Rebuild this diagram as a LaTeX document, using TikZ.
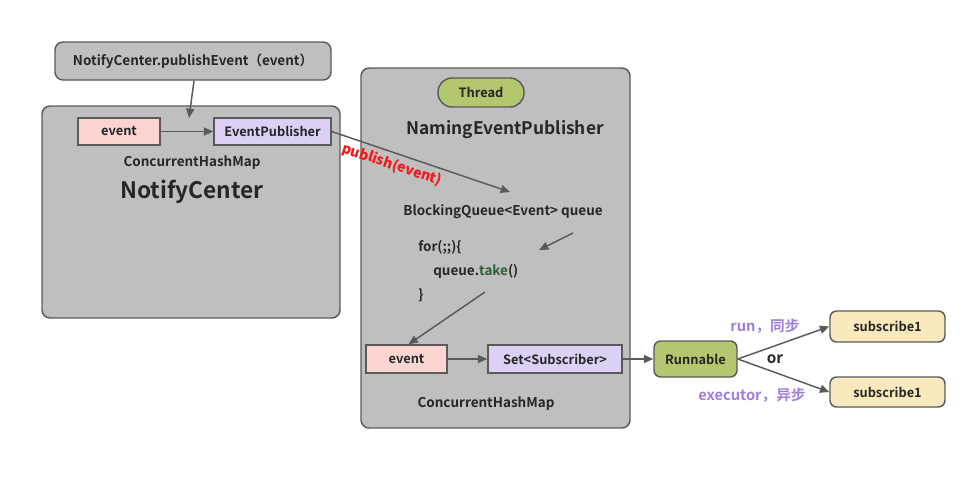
\documentclass[tikz,border=0pt]{standalone}
\usepackage{fontspec}
\setmainfont{Noto Sans CJK SC}[BoldFont={* Bold}]
\usetikzlibrary{arrows.meta}
\definecolor{gfill}{HTML}{BFBFBF}
\definecolor{gline}{HTML}{5A5A5A}
\definecolor{txt}{HTML}{262626}
\definecolor{pinkf}{HTML}{FCD5D3}
\definecolor{lavf}{HTML}{DCD0F5}
\definecolor{greenf}{HTML}{B3C86E}
\definecolor{yelf}{HTML}{FAE9BD}
\definecolor{purp}{HTML}{9D7FE0}
\definecolor{redt}{HTML}{F21A1A}
\definecolor{takeg}{HTML}{2F5E3A}
\begin{document}
\begin{tikzpicture}[x=0.75pt,y=-0.75pt,
  every node/.style={font=\bfseries, text=txt, inner sep=0pt},
  bxf/.style={font=\bfseries\fontsize{9.6}{11}\selectfont},
  lbl/.style={font=\bfseries\fontsize{10.1}{12}\selectfont},
  container/.style={draw=gline, line width=1.1pt, fill=gfill, rounded corners=6pt},
  pinkbox/.style={draw=gline, line width=1.1pt, fill=pinkf, minimum height=20.25pt, bxf},
  lavbox/.style={draw=gline, line width=1.1pt, fill=lavf, minimum height=20.25pt, bxf},
  greenbox/.style={draw=gline, line width=1.1pt, fill=greenf, rounded corners=5pt, bxf},
  yelbox/.style={draw=gline, line width=1.1pt, fill=yelf, rounded corners=5pt, bxf, minimum width=86.25pt},
  conn/.style={draw=gline, line width=1.1pt, -{Triangle[length=7pt,width=6pt]}},
]
\useasboundingbox (0,0) rectangle (977,476);
% containers
\node[container, minimum width=207pt, minimum height=28.5pt, lbl] (pub) at (193,61) {NotifyCenter.publishEvent（event）};
\node[container, minimum width=223.5pt, minimum height=159pt] (nc) at (191,212) {};
\node[container, minimum width=201.75pt, minimum height=270pt] (nep) at (495.5,248) {};
% left content
\node[pinkbox, minimum width=61.5pt] (ev1) at (119,131.5) {event};
\node[lavbox, minimum width=87.75pt] (ep) at (272.5,131.5) {EventPublisher};
\node[lbl] (chm1) at (192,163) {ConcurrentHashMap};
\node[font=\bfseries\fontsize{17}{20}\selectfont] (nct) at (192,192) {NotifyCenter};
\coordinate (pubend) at (189,118);
\draw[conn] ([xshift=0.75pt]pub.south) -- (pubend);
\draw[conn] (ev1) -- (ep);
% right content
\node[greenbox, rounded corners=10.5pt, minimum width=64.5pt, minimum height=21.75pt] (thr) at (481,92.5) {Thread};
\node[font=\bfseries\fontsize{13}{15}\selectfont] (nept) at (505,130) {NamingEventPublisher};
\node[lbl] (bq) at (503,212) {BlockingQueue<Event> queue};
\node[lbl, anchor=west] (for) at (418,247) {for(;;)\{};
\node[lbl, anchor=west] (take) at (433,271) {queue.\textcolor{takeg}{take}()};
\node[lbl, anchor=west] (close) at (418,295) {\}};
\coordinate (bqend) at (510,192);
\draw[conn] (ep.east) -- node[sloped, pos=0.36, below=3pt, font=\bfseries\itshape\fontsize{10.5}{12}\selectfont, text=redt] (publbl) {publish(event)} (bqend);
\coordinate (qa) at (573,233);
\coordinate (qb) at (539,250);
\draw[conn] (qa) -- (qb);
\node[pinkbox, minimum width=60.75pt, minimum height=21pt] (ev2) at (406.5,359) {event};
\node[lavbox, minimum width=100.5pt, minimum height=21pt] (set) at (555,359) {Set<Subscriber>};
\coordinate (ta) at (485,292);
\draw[conn] (ta) -- ([xshift=1.5pt]ev2.north);
\draw[conn] (ev2) -- (set);
\node[lbl] (chm2) at (486,404) {ConcurrentHashMap};
% runnable
\node[greenbox, minimum width=62.25pt, minimum height=27pt] (run) at (695.5,359) {Runnable};
\node[yelbox, minimum height=23.25pt] (s1) at (887.5,326.5) {subscribe1};
\node[yelbox, minimum height=22.5pt] (s2) at (887.5,392) {subscribe1};
\draw[conn] (set) -- (run);
\draw[conn] (run.east) -- (s1.west);
\draw[conn] (run.east) -- (s2.west);
\node[font=\bfseries\fontsize{11}{13}\selectfont, text=purp] (sync) at (765,326) {run，同步};
\node[font=\bfseries\fontsize{11.5}{13}\selectfont] (or) at (775,359) {or};
\node[font=\bfseries\fontsize{11}{13}\selectfont, text=purp] (async) at (752,395) {executor，异步};
\end{tikzpicture}
\end{document}
